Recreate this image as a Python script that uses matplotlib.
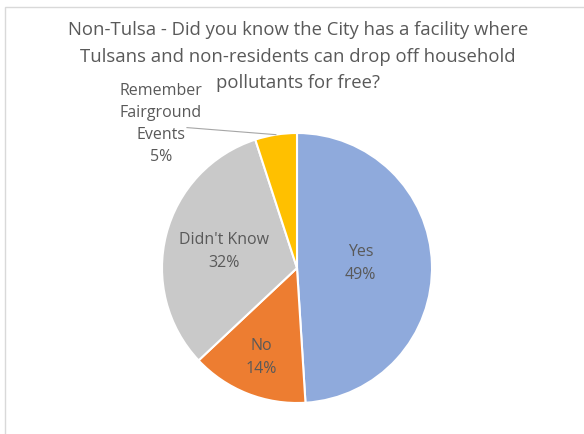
import matplotlib
matplotlib.use("Agg")
import matplotlib.pyplot as plt
import numpy as np
from matplotlib.patches import Rectangle

# --- data -------------------------------------------------------------------
categories = ["Yes", "No", "Didn't Know", "Remember\nFairground\nEvents"]
percent = [49, 14, 32, 5]
colors = ["#8FAADC", "#ED7D31", "#C9C9C9", "#FFC000"]
title_lines = ["Non-Tulsa - Did you know the City has a facility where",
               "Tulsans and non-residents can drop off household",
               "pollutants for free?"]

# label position per slice: (distance from centre as fraction of radius,
# vertical nudge); None = outside label with leader line
label_pos = [(0.47, 0.02), (0.71, 0.0), (0.56, -0.02), None]

TXT = "#595959"
W, H = 584, 434
fig = plt.figure(figsize=(W / 100, H / 100), dpi=100)
plt.rcParams["font.family"] = ["Open Sans", "DejaVu Sans"]

# light chart-area frame (runs off right/bottom edge)
fig.patches.append(Rectangle((5 / W, -0.1), 1.2, 1 - 7 / H + 0.1,
                             transform=fig.transFigure, fill=False,
                             edgecolor="#D9D9D9", linewidth=1.0))

# title, one text per line so each line keeps its own extent
for i, line in enumerate(title_lines):
    fig.text(298 / W, 1 - (30 + 26.5 * i) / H, line, ha="center",
             va="center", fontsize=13.3, color=TXT)

cx, cy, r = 297, 268, 135
ax = fig.add_axes([(cx - r) / W, (H - cy - r) / H, 2 * r / W, 2 * r / H])
wedges, _ = ax.pie(percent, colors=colors, startangle=90, counterclock=False,
                   radius=1, wedgeprops=dict(edgecolor="white", linewidth=1.5))
ax.set_xlim(-1, 1)
ax.set_ylim(-1, 1)
ax.set_aspect("equal")
ax.axis("off")

for w, cat, p, pos in zip(wedges, categories, percent, label_pos):
    mid = np.deg2rad((w.theta1 + w.theta2) / 2)
    lab = f"{cat}\n{p}%"
    if pos is not None:
        d, nudge = pos
        ax.text(d * np.cos(mid), d * np.sin(mid) + nudge, lab, ha="center",
                va="center", fontsize=11.5, color=TXT, linespacing=1.6)
    else:
        ex, ey = np.cos(mid), np.sin(mid)
        ax.plot([ex, -0.815], [ey, 1.04], color="#A6A6A6", lw=0.8,
                clip_on=False)
        ax.text(-1.01, 1.065, lab, ha="center", va="center", fontsize=11.5,
                color=TXT, linespacing=1.5, clip_on=False)

fig.savefig("out.png", dpi=100)
